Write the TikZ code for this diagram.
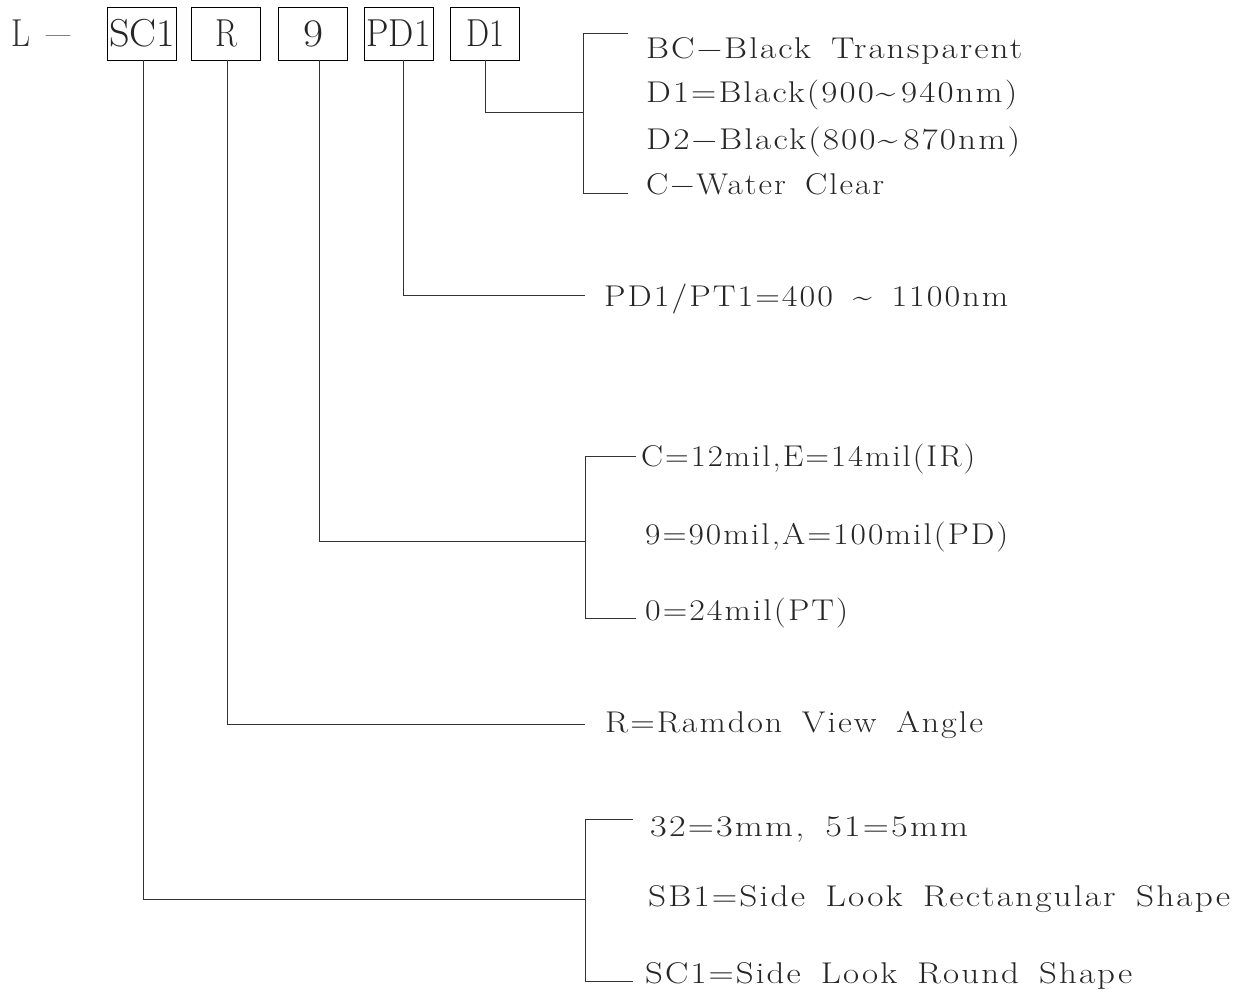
\documentclass[tikz,border=0pt]{standalone}
\usepackage{fontspec}
\setmainfont{Latin Modern Roman}
\newfontfamily\cadfont{Latin Modern Roman}[LetterSpace=6,WordSpace=1.6]
\newlength\fitlen
\newcommand\fitw[2]{\settowidth\fitlen{#2}\pgfmathsetmacro\fitratio{#1/\fitlen}\scalebox{\fitratio}[1]{#2}}
\newcommand\tld{\textasciitilde}
\tikzset{
  codebox/.style={draw=black, line width=1pt, minimum width=69pt, minimum height=53pt, inner sep=0pt,
    font=\fontsize{39}{39}\selectfont, text height=26.5pt, text depth=0pt, text=black!85},
  conn/.style={draw=black!80, line width=0.9pt},
  lbl/.style={anchor=base west, inner sep=0pt, font=\cadfont\fontsize{30}{30}\selectfont, text=black!85},
}
\begin{document}
\begin{tikzpicture}[x=1pt,y=-1pt]
\useasboundingbox (0,0) rectangle (1239,991);
% prefix
\node[anchor=base west, inner sep=0pt, font=\fontsize{39}{39}\selectfont, text=black!80] (pre) at (11,46) {\fitw{19pt}{L}};
\node[anchor=base west, inner sep=0pt, font=\fontsize{39}{39}\selectfont, text=black!80] (dash) at (46,46) {\fitw{24pt}{–}};
% code boxes
\node[codebox] (bsc) at (142,33.5) {\fitw{66pt}{SC1}};
\node[codebox] (br)  at (226,33.5) {\fitw{22pt}{R}};
\node[codebox] (b9)  at (313,33.5) {\fitw{20pt}{9}};
\node[codebox] (bpd) at (398.5,33.5) {\fitw{64pt}{PD1}};
\node[codebox] (bd)  at (485,33.5) {\fitw{38pt}{D1}};
% start points of connectors under boxes
\coordinate (ssc) at (143,60);
\coordinate (sr)  at (227,60);
\coordinate (s9)  at (319,60);
\coordinate (spd) at (403,60);
\coordinate (sd)  at (485,60);
% junctions
\coordinate (jd)  at (583,112);
\coordinate (jpd) at (585,295);
\coordinate (j9)  at (585,541);
\coordinate (jr)  at (585,724);
\coordinate (jsc) at (585,899);
% bracket ends
\coordinate (bdt) at (583,33);  \coordinate (bdte) at (628,33);
\coordinate (bdb) at (583,193); \coordinate (bdbe) at (628,193);
\coordinate (b9t) at (585,456); \coordinate (b9te) at (636,456);
\coordinate (b9b) at (585,618); \coordinate (b9be) at (636,618);
\coordinate (bst) at (585,819); \coordinate (bste) at (633,819);
\coordinate (bsb) at (585,981); \coordinate (bsbe) at (633,981);
% labels
\node[lbl] (l1) at (646,58)  {\fitw{376pt}{BC−Black Transparent}};
\node[lbl] (l2) at (646,102) {\fitw{371pt}{D1=Black(900\tld\,940nm)}};
\node[lbl] (l3) at (646,149) {\fitw{374pt}{D2−Black(800\tld\,870nm)}};
\node[lbl] (l4) at (646,194) {\fitw{238pt}{C−Water Clear}};
\node[lbl] (l5) at (604,306) {\fitw{404pt}{PD1/PT1=400 \tld{} 1100nm}};
\node[lbl] (l6) at (641,466) {\fitw{334pt}{C=12mil,E=14mil(IR)}};
\node[lbl] (l7) at (645,544) {\fitw{363pt}{9=90mil,A=100mil(PD)}};
\node[lbl] (l8) at (645,620) {\fitw{203pt}{0=24mil(PT)}};
\node[lbl] (l9) at (605,732) {\fitw{378pt}{R=Ramdon View Angle}};
\node[lbl] (l10) at (650,836) {\fitw{318pt}{32=3mm, 51=5mm}};
\node[lbl] (l11) at (648,906) {\fitw{582pt}{SB1=Side Look Rectangular Shape}};
\node[lbl] (l12) at (645,983) {\fitw{487pt}{SC1=Side Look Round Shape}};
% connectors
\draw[conn] (sd) |- (jd);
\draw[conn] (spd) |- (jpd);
\draw[conn] (s9) |- (j9);
\draw[conn] (sr) |- (jr);
\draw[conn] (ssc) |- (jsc);
\draw[conn] (bdte) -- (bdt) -- (bdb) -- (bdbe);
\draw[conn] (b9te) -- (b9t) -- (b9b) -- (b9be);
\draw[conn] (bste) -- (bst) -- (bsb) -- (bsbe);
\end{tikzpicture}
\end{document}
